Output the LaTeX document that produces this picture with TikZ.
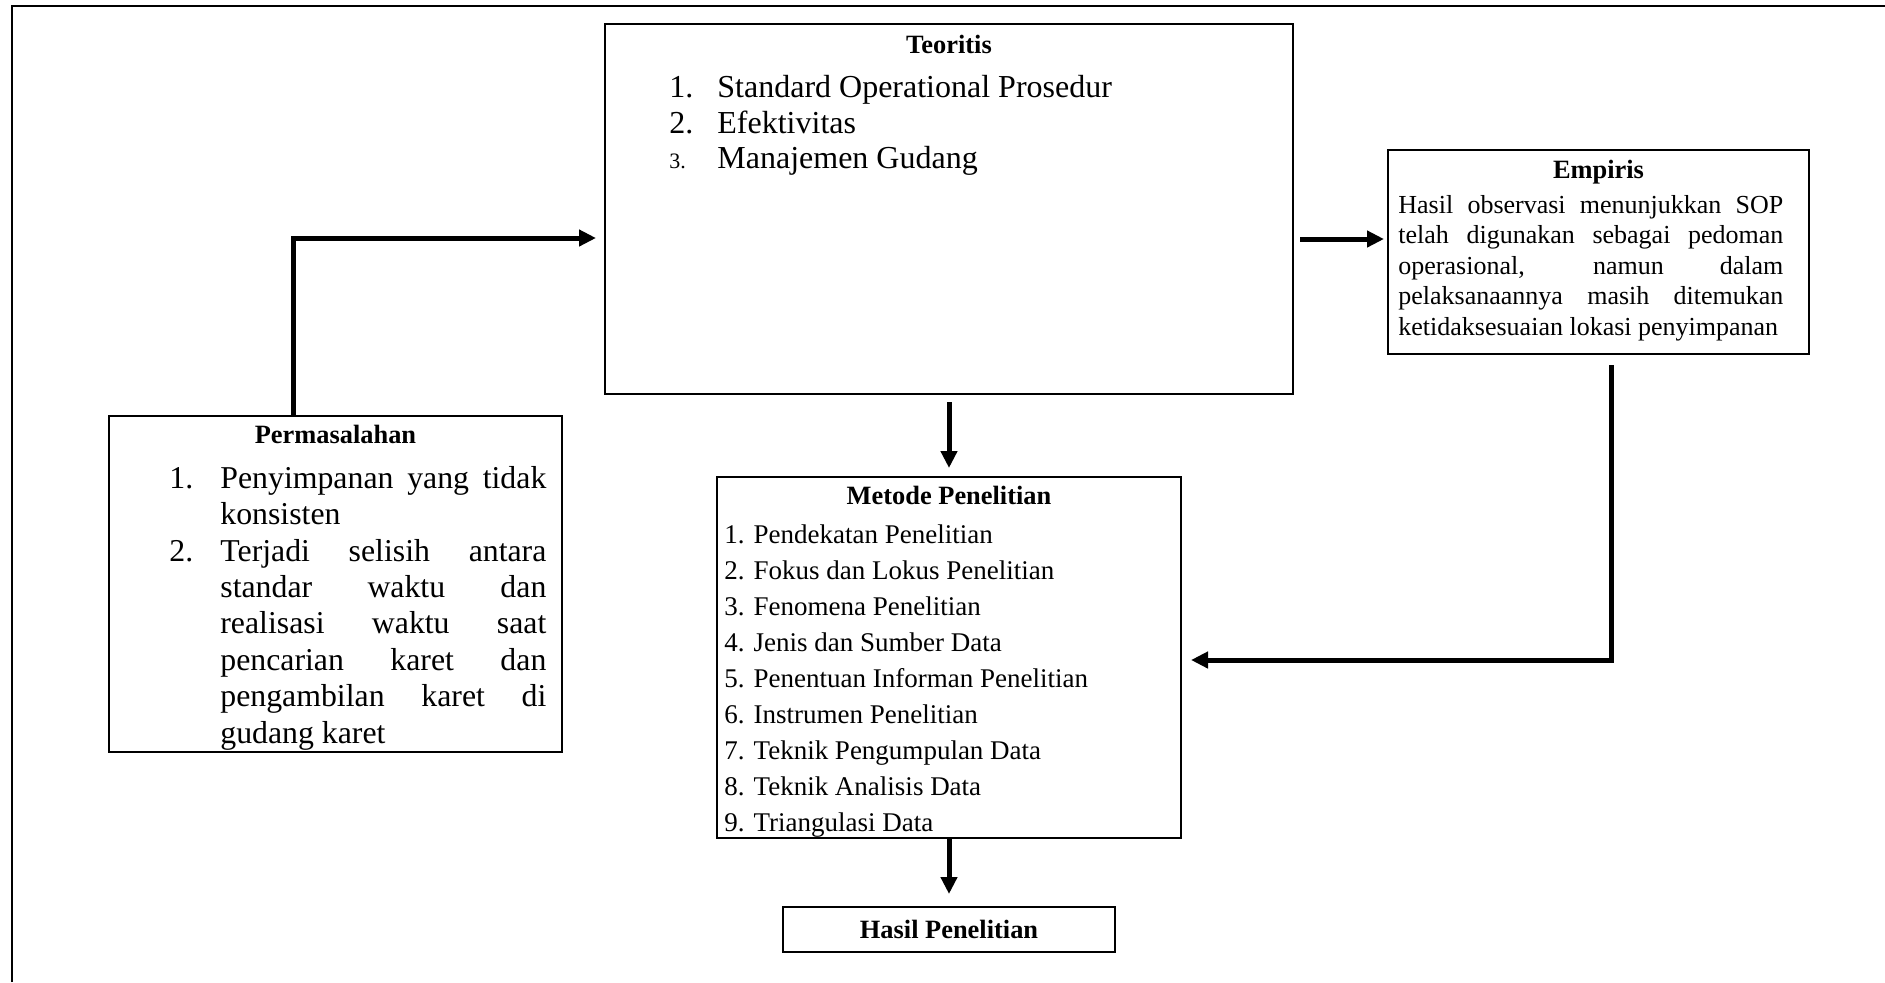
\documentclass[tikz,border=0pt]{standalone}
\usepackage{fontspec}
\setmainfont{Liberation Serif}
\usetikzlibrary{arrows.meta}

\begin{document}
\begin{tikzpicture}[x=0.5pt, y=-0.5pt,
        box/.style={draw, line width=1pt, inner sep=0pt},
        flow/.style={line width=2.5pt, -{Triangle[length=8.5pt, width=8pt]}},
        txt/.style={inner sep=0pt, anchor=base west},
        head/.style={inner sep=0pt, anchor=base, font=\fontsize{13.2}{15}\selectfont\bfseries}]

            \useasboundingbox (0,0) rectangle (1885,982);
            \draw[line width=1pt] (12,982) -- (12,6) -- (1885,6);

            % boxes
            \node[box, minimum width=344pt, minimum height=185pt] (teori) at (949,209) {};
            \node[box, minimum width=210.5pt, minimum height=102pt] (empiris) at (1598.5,252) {};
            \node[box, minimum width=226.5pt, minimum height=168pt] (masalah) at (335.5,584) {};
            \node[box, minimum width=232pt, minimum height=180.5pt] (metode) at (949,657.5) {};
            \node[box, minimum width=166pt, minimum height=22.5pt, font=\fontsize{13.2}{15}\selectfont\bfseries] (hasil) at (949,929.5) {Hasil Penelitian};

            % Teoritis
            \node[head] (teoriT) at (949,53) {Teoritis};
            \begin{scope}[every node/.style={font=\fontsize{16}{18}\selectfont}]
                \node[txt] (t1n) at (669,97) {1.};
                \node[txt] (t1) at (717,97) {Standard Operational Prosedur};
                \node[txt] (t2n) at (669,133) {2.};
                \node[txt] (t2) at (717,133) {Efektivitas};
                \node[txt, font=\fontsize{11}{13}\selectfont] (t3n) at (669,168) {3.};
                \node[txt] (t3) at (717,168) {Manajemen Gudang};
            \end{scope}

            % Empiris
            \node[head] (empirisT) at (1598.5,178) {Empiris};
            \node[txt, text width=192.5pt, align=justify, font=\fontsize{13}{15.3}\selectfont] (empirisX) at (1398,213)
                {\sloppy Hasil observasi menunjukkan SOP\linebreak telah digunakan sebagai pedoman\linebreak operasional, namun dalam\linebreak pelaksanaannya masih ditemukan\linebreak ketidaksesuaian lokasi penyimpanan};

            % Permasalahan
            \node[head] (masalahT) at (335.5,443) {Permasalahan};
            \begin{scope}[every node/.style={font=\fontsize{15.9}{18.2}\selectfont}]
                \node[txt] (m1n) at (169,488) {1.};
                \node[txt, text width=163pt, align=justify] (m1) at (220,488)
                    {\sloppy Penyimpanan yang tidak\linebreak konsisten};
                \node[txt] (m2n) at (169,561) {2.};
                \node[txt, text width=163pt, align=justify] (m2) at (220,561)
                    {\sloppy Terjadi selisih antara\linebreak standar waktu dan\linebreak realisasi waktu saat\linebreak pencarian karet dan\linebreak pengambilan karet di\linebreak gudang karet};
            \end{scope}

            % Metode Penelitian
            \node[head] (metodeT) at (949,504) {Metode Penelitian};
            \foreach \n/\isi in {1/Pendekatan Penelitian, 2/Fokus dan Lokus Penelitian, 3/Fenomena Penelitian,
                    4/Jenis dan Sumber Data, 5/Penentuan Informan Penelitian, 6/Instrumen Penelitian,
                    7/Teknik Pengumpulan Data, 8/Teknik Analisis Data, 9/Triangulasi Data}
                \node[txt, font=\fontsize{13.5}{16}\selectfont] (metode\n) at (724,{543+36*(\n-1)}) {\n. \isi};

            % arrows
            \draw[flow] ([xshift=-21.25pt]masalah.north) |- ([xshift=-4pt, yshift=-14.5pt]teori.west);
            \draw[flow] ([xshift=3pt, yshift=-15pt]teori.east) -- ([xshift=-1.5pt, yshift=6.5pt]empiris.west);
            \draw[flow] ([yshift=-3.5pt]teori.south) -- ([yshift=4pt]metode.north);
            \draw[flow] ([xshift=6.25pt, yshift=-5pt]empiris.south) |- ([xshift=4.5pt, yshift=-1.25pt]metode.east);
            \draw[flow] (metode.south) -- ([yshift=6pt]hasil.north);

        \end{tikzpicture}
\end{document}
